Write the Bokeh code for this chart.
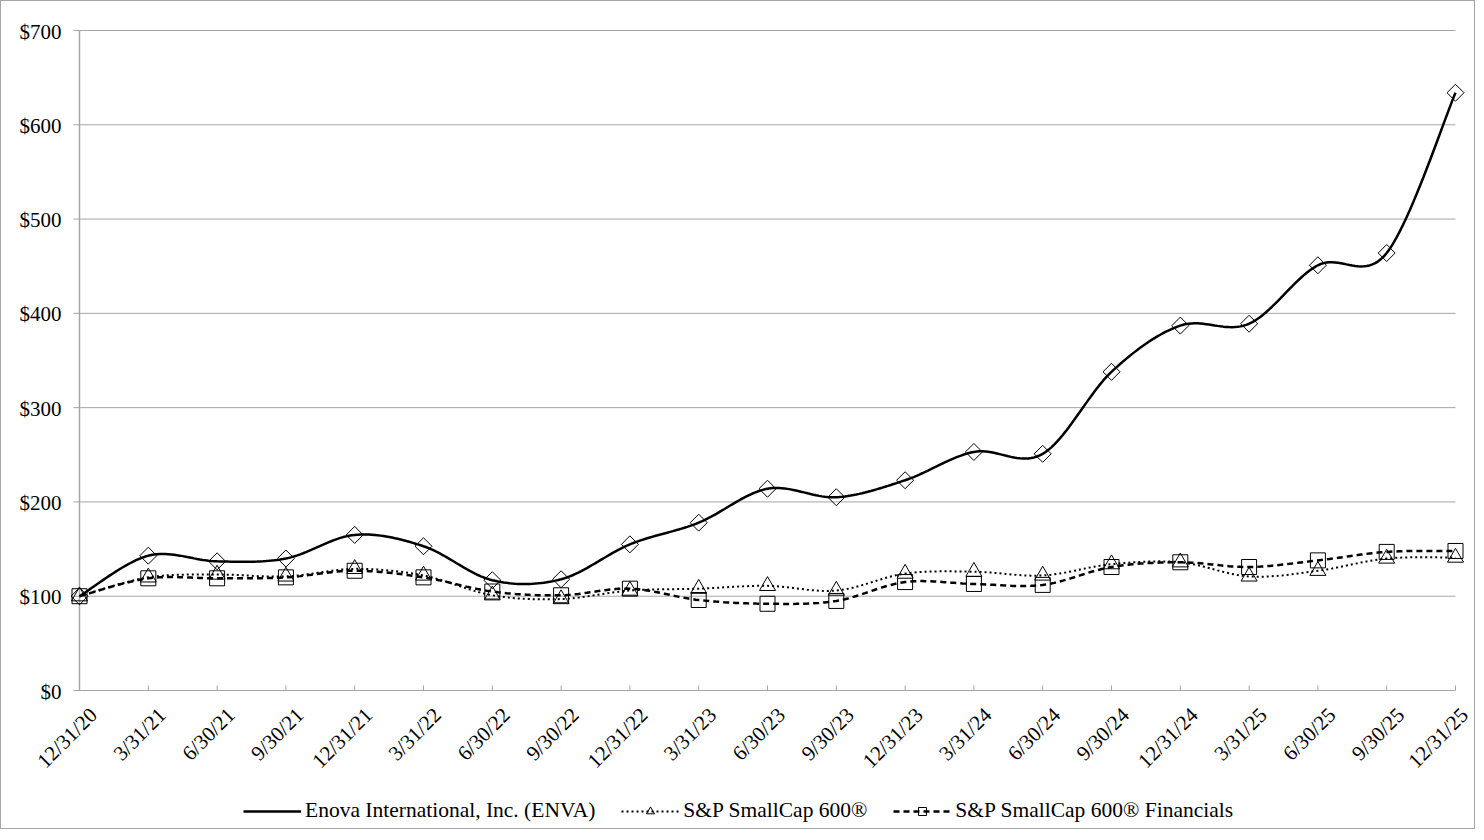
import numpy as np
from bokeh.plotting import figure
from bokeh.models import Legend, LegendItem
from bokeh.core.properties import value
from bokeh.embed import file_html
from bokeh.resources import INLINE

dates = ["12/31/20", "3/31/21", "6/30/21", "9/30/21", "12/31/21", "3/31/22", "6/30/22",
         "9/30/22", "12/31/22", "3/31/23", "6/30/23", "9/30/23", "12/31/23", "3/31/24",
         "6/30/24", "9/30/24", "12/31/24", "3/31/25", "6/30/25", "9/30/25", "12/31/25"]
enova = [100, 143, 137, 140, 165, 153, 117, 118, 155, 178, 214, 205, 223, 253, 251,
         338, 387, 389, 451, 464, 634]
sp600 = [100, 120, 123, 121, 129, 122, 101, 97, 106, 108, 111, 106, 124, 126, 122,
         134, 136, 121, 127, 140, 141]
sp600fin = [100, 119, 119, 120, 127, 120, 105, 101, 108, 96, 92, 95, 115, 113, 112,
            131, 136, 131, 138, 147, 148]
y_ticks = [0, 100, 200, 300, 400, 500, 600, 700]
y_labels = ["$" + str(v) for v in y_ticks]

FONT = "Liberation Serif"
GRID = "#a6a6a6"


def smooth(xs, ys, n=24):
    xs = np.asarray(xs, float)
    ys = np.asarray(ys, float)
    px, py = [], []
    m = len(xs)
    for i in range(m - 1):
        x0, y0 = xs[max(i - 1, 0)], ys[max(i - 1, 0)]
        x1, y1 = xs[i], ys[i]
        x2, y2 = xs[i + 1], ys[i + 1]
        x3, y3 = xs[min(i + 2, m - 1)], ys[min(i + 2, m - 1)]
        c1x, c1y = x1 + (x2 - x0) / 6, y1 + (y2 - y0) / 6
        c2x, c2y = x2 - (x3 - x1) / 6, y2 - (y3 - y1) / 6
        t = np.linspace(0, 1, n, endpoint=(i == m - 2))
        a = (1 - t) ** 3
        b = 3 * (1 - t) ** 2 * t
        c = 3 * (1 - t) * t ** 2
        d = t ** 3
        px.extend(a * x1 + b * c1x + c * c2x + d * x2)
        py.extend(a * y1 + b * c1y + c * c2y + d * y2)
    return px, py


x = list(range(len(dates)))
n = len(x)

# layout in pixels (plot area for data: 1376 x 660 px)
DATA_W, DATA_H = 1376, 660
PAD_L, PAD_R, PAD_B, PAD_T = 66, 19, 133, 20
px_per_x = DATA_W / (n - 1)
px_per_y = DATA_H / y_ticks[-1]
x_range = (x[0] - PAD_L / px_per_x, x[-1] + PAD_R / px_per_x)
y_range = (y_ticks[0] - PAD_B / px_per_y, y_ticks[-1] + PAD_T / px_per_y)

p = figure(frame_width=DATA_W + PAD_L + PAD_R, frame_height=DATA_H + PAD_B + PAD_T,
           output_backend="svg", toolbar_location=None,
           x_range=x_range, y_range=y_range,
           min_border_left=12, min_border_right=0, min_border_top=29 - PAD_T,
           min_border_bottom=5)
p.styles = {"border": "1px solid #a6a6a6"}
p.outline_line_color = None
p.background_fill_color = "white"
p.border_fill_color = "white"
p.xaxis.visible = False
p.yaxis.visible = False
p.xgrid.grid_line_color = None
p.ygrid.grid_line_color = None

# horizontal gridlines, value ticks and labels
p.segment(x0=[x[0]] * len(y_ticks), y0=y_ticks, x1=[x[-1]] * len(y_ticks), y1=y_ticks,
          line_color=GRID, line_width=1)
p.ray(x=[x[0]] * len(y_ticks), y=y_ticks, length=6, length_units="screen",
      angle=np.pi, line_color=GRID, line_width=1)
p.text(x=[x[0]] * len(y_ticks), y=y_ticks, text=y_labels, text_align="right",
       text_baseline="middle", x_offset=-18, y_offset=1,
       text_font=value(FONT), text_font_size="21px", text_color="black")
p.segment(x0=[x[0]], y0=[y_ticks[0]], x1=[x[0]], y1=[y_ticks[-1]],
          line_color=GRID, line_width=1.5)

# category ticks and rotated date labels
p.ray(x=x, y=[y_ticks[0]] * n, length=5, length_units="screen",
      angle=np.pi / 2, line_color=GRID, line_width=1)
p.text(x=x[:-1], y=[y_ticks[0]] * (n - 1), text=dates[:-1], angle=np.pi / 4,
       text_align="right", text_baseline="middle", x_offset=14, y_offset=21,
       text_font=value(FONT), text_font_size="21px", text_color="black")
p.text(x=x[-1:], y=[y_ticks[0]], text=dates[-1:], angle=np.pi / 4,
       text_align="right", text_baseline="middle", x_offset=9, y_offset=21,
       text_font=value(FONT), text_font_size="21px", text_color="black")

items = []
specs = [
    ("Enova International, Inc. (ENVA)", enova, "solid", 2.5, "square", 12, np.pi / 4, "diamond"),
    ("S&P SmallCap 600®", sp600, "2 3", 2.0, "triangle", 16, 0, None),
    ("S&P SmallCap 600® Financials", sp600fin, "6 4", 2.5, "square", 15, 0, None),
]
for label, vals, dash, lw, marker, size, ang, legend_marker in specs:
    sx, sy = smooth(x, vals)
    r1 = p.line(sx, sy, line_color="black", line_width=lw, line_dash=dash)
    r2 = p.scatter(x, vals, marker=marker, size=size, angle=ang, fill_color=None,
                   line_color="black", line_width=1)
    if legend_marker:
        r3 = p.scatter(x=[], y=[], marker=legend_marker, size=size, fill_color=None,
                       line_color="black", line_width=1)
        items.append(LegendItem(label=label, renderers=[r1, r3]))
    else:
        items.append(LegendItem(label=label, renderers=[r1, r2]))

legend = Legend(items=items, orientation="horizontal", location=(PAD_L + 164, 0),
                label_text_font=FONT, label_text_font_size="21.5px",
                label_text_color="black", border_line_color=None,
                background_fill_alpha=0, spacing=26, glyph_width=58,
                label_standoff=4, margin=0, padding=0)
p.add_layout(legend, "center")

open("out.html", "w").write(file_html(p, INLINE))
